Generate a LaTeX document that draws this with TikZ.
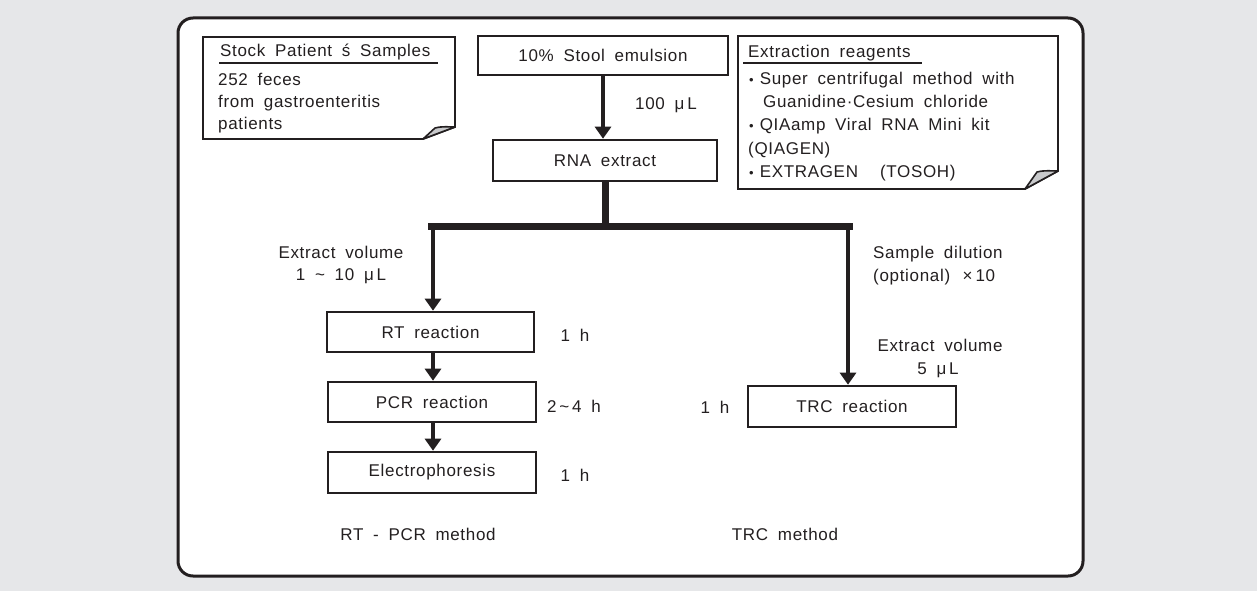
\documentclass[tikz,border=0pt]{standalone}
\usepackage{fontspec}
\setmainfont{Liberation Sans}[LetterSpace=4,WordSpace=1.8]
\usetikzlibrary{arrows.meta}
\definecolor{bggray}{HTML}{E6E7E9}
\definecolor{flapgray}{HTML}{C8C9CB}
\definecolor{ink}{HTML}{231F20}
\newcommand\bdot{{\fontsize{13}{13}\selectfont •}\hspace{6pt}}
\begin{document}
\begin{tikzpicture}[x=1pt,y=-1pt,
  every node/.style={font=\fontsize{17}{20}\selectfont,text=ink,inner sep=0pt},
  stepbox/.style={draw=ink,line width=2.6pt,fill=white,minimum height=40pt,anchor=center},
  arr/.style={draw=ink,line width=4.2pt,-{Triangle[length=12pt,width=16pt]}},
  trunk/.style={draw=ink,line width=7pt},
  note/.style={draw=ink,line width=1.8pt,fill=white},
  flap/.style={draw=ink,line width=1.6pt,fill=flapgray,line join=round},
  lbl/.style={anchor=base}
]
\useasboundingbox (0,0) rectangle (1257,591);
\fill[bggray] (0,0) rectangle (1257,591);
\draw[ink,line width=3pt,fill=white,rounded corners=15pt] (178,18) rectangle (1083,576);

% stock note
\draw[note] (203,37) -- (455,37) -- (455,127) -- (423,139) -- (203,139) -- cycle;
\draw[flap] (423,139) -- (435,128) .. controls (443,126) and (449,127) .. (455,127) -- cycle;
\node[anchor=base west] (stockT) at (220,57) {Stock  Patient ś  Samples};
\draw[ink,line width=1.4pt] (219,63) -- (438,63);
\node[anchor=base west] (stock1) at (218,86) {252  feces};
\node[anchor=base west] (stock2) at (218,108) {from  gastroenteritis};
\node[anchor=base west] (stock3) at (218,129) {patients};

% extraction note
\draw[note] (738,36) -- (1058,36) -- (1058,171) -- (1025,189) -- (738,189) -- cycle;
\draw[flap] (1025,189) -- (1037,172) .. controls (1045,170) and (1051,171) .. (1058,171) -- cycle;
\node[anchor=base west] (extT) at (748,58) {Extraction  reagents};
\draw[ink,line width=1.4pt] (743,63) -- (922,63);
\node[anchor=base west] (ext1) at (749,85) {\bdot Super  centrifugal  method  with};
\node[anchor=base west] (ext2) at (763,108) {Guanidine·Cesium  chloride};
\node[anchor=base west] (ext3) at (749,131) {\bdot QIAamp  Viral  RNA  Mini  kit};
\node[anchor=base west] (ext4) at (748,154) {(QIAGEN)};
\node[anchor=base west] (ext5) at (749,177) {\bdot EXTRAGEN\hspace{22pt}(TOSOH)};

% main boxes
\node[stepbox,minimum width=250pt,minimum height=39pt] (stool) at (603,55.5) {10\%  Stool  emulsion};
\node[stepbox,minimum width=224pt,minimum height=41pt] (rna) at (605,160.5) {RNA  extract};
\node[stepbox,minimum width=207pt] (rt) at (430.5,332) {RT  reaction};
\node[stepbox,minimum width=208pt] (pcr) at (432,402) {PCR  reaction};
\node[stepbox,minimum width=208pt,minimum height=41pt] (ele) at (432,472.5) {Electrophoresis};
\node[stepbox,minimum width=208pt,minimum height=41pt] (trc) at (852,406.5) {TRC  reaction};

% connectors
\draw[arr] (stool.south) -- (stool.south |- rna.north);
\coordinate (barL) at (433,226);
\coordinate (barR) at (848,226);
\draw[trunk] (rna.south) -- (rna.south |- barL);
\draw[trunk,line cap=rect] ([xshift=-1.5pt]barL) -- ([xshift=1.5pt]barR);
\draw[arr] (barL) -- (barL |- rt.north);
\draw[arr] (barR) -- (barR |- trc.north);
\draw[arr] (rt.south -| barL) -- (pcr.north -| barL);
\draw[arr] (pcr.south -| barL) -- (ele.north -| barL);

% labels
\node[lbl] (vol100) at (666,110) {100 μ\,L};
\node[lbl] (evL1) at (341,258) {Extract  volume};
\node[lbl] (evL2) at (341,280) {1  \textasciitilde{}  10  μ\,L};
\node[lbl] (t1) at (575,341) {1  h};
\node[lbl] (t2) at (574,412) {2\,\textasciitilde{}\,4  h};
\node[lbl] (t3) at (575,481) {1  h};
\node[anchor=base west] (sd1) at (873,258) {Sample  dilution};
\node[anchor=base west] (sd2) at (873,281) {(optional)  \,×\,10};
\node[lbl] (evR1) at (940,351) {Extract  volume};
\node[lbl] (evR2) at (938,374) {5  μ\,L};
\node[lbl] (t4) at (715,413) {1  h};
\node[lbl] (m1) at (418,540) {RT  -  PCR  method};
\node[lbl] (m2) at (785,540) {TRC  method};
\end{tikzpicture}
\end{document}
